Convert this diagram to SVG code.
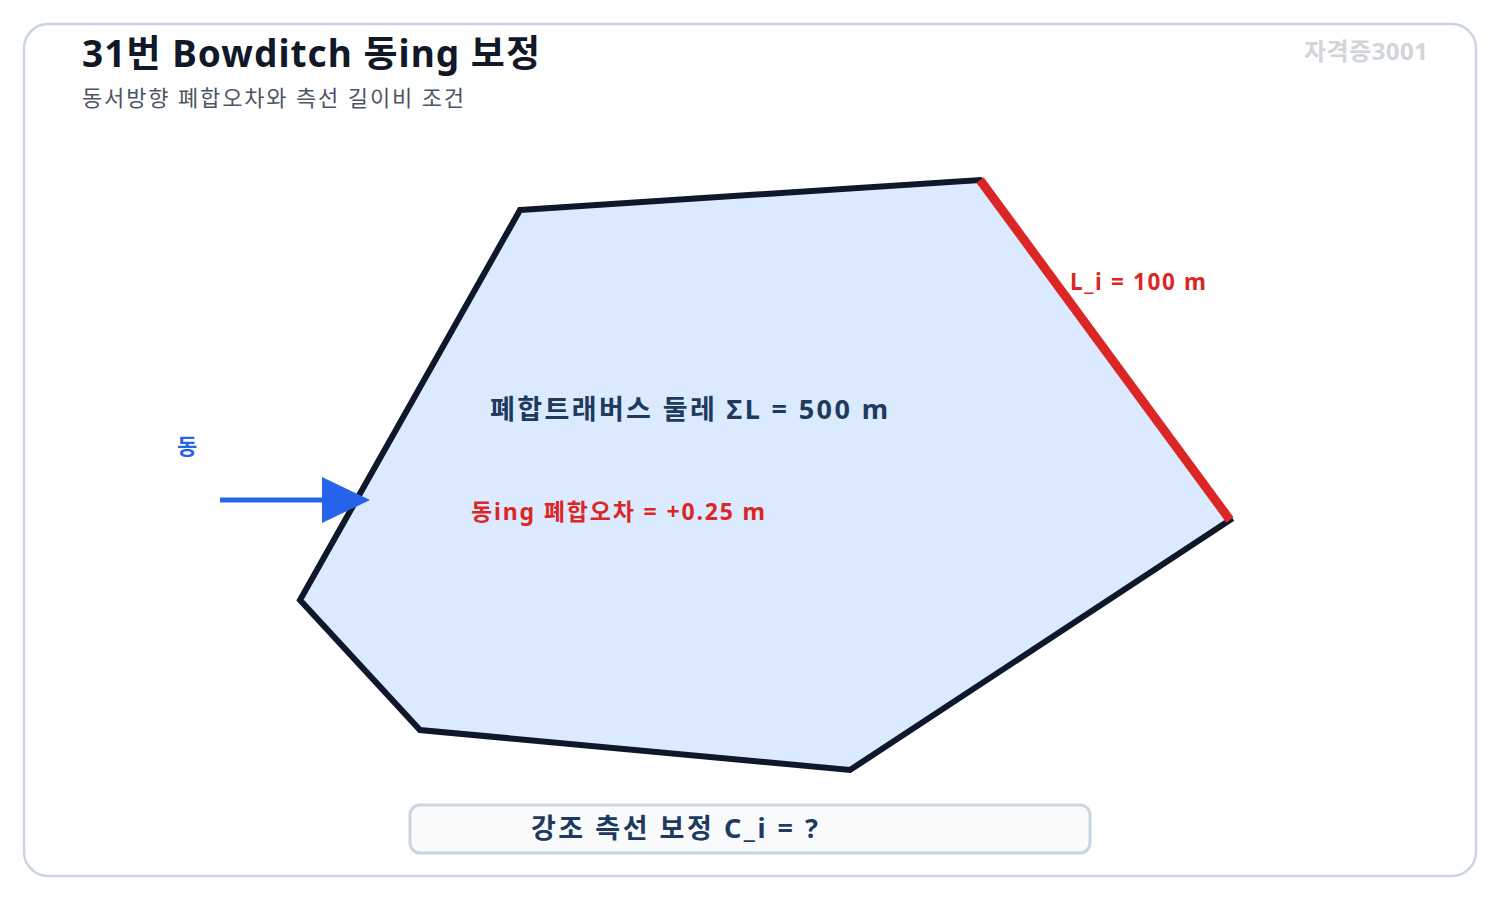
<svg xmlns="http://www.w3.org/2000/svg" width="1500" height="900" viewBox="0 0 1500 900">
<style>
text{font-family:"Noto Sans","Noto Sans CJK KR",sans-serif;}
.b{font-weight:700;}
</style>
<rect width="1500" height="900" fill="#ffffff"/>
<rect id="frame" x="24" y="24" width="1452" height="852" rx="24" fill="#ffffff" stroke="#cbd5e1" stroke-width="2.5"/>
<g id="title">
<text class="b" x="82" y="67" font-size="37" fill="#111827" textLength="458" lengthAdjust="spacing">31번 Bowditch 동ing 보정</text>
<text x="82" y="106" font-size="22" fill="#4b5563" textLength="382" lengthAdjust="spacing">동서방향 폐합오차와 측선 길이비 조건</text>
</g>
<text id="watermark" class="b" x="1304" y="60" font-size="24" fill="#d1d5db" textLength="124" lengthAdjust="spacing">자격증3001</text>
<g id="traverse">
<polygon points="520,210 980,180 1230,520 850,770 420,730 300,600" fill="#dbeafe" stroke="#0f172a" stroke-width="6" stroke-linejoin="miter"/>
</g>
<g id="highlight-edge">
<line x1="980" y1="180" x2="1230" y2="520" stroke="#dc2626" stroke-width="9"/>
<text class="b" x="1070" y="290" font-size="22.5" fill="#dc2626" textLength="136" lengthAdjust="spacing">L_i = 100 m</text>
</g>
<g id="labels">
<text class="b" x="490" y="419" font-size="27" fill="#1e3a5f" textLength="398" lengthAdjust="spacing">폐합트래버스 둘레 ΣL = 500 m</text>
<text class="b" x="471" y="520" font-size="23" fill="#dc2626" textLength="294" lengthAdjust="spacing">동ing 폐합오차 = +0.25 m</text>
</g>
<g id="connectors">
<line x1="220" y1="500" x2="326" y2="500" stroke="#2563eb" stroke-width="5"/>
<polygon points="322,477 370,500 322,523" fill="#2563eb"/>
</g>
<text id="east" class="b" x="187" y="454" font-size="22" fill="#2563eb" text-anchor="middle">동</text>
<g id="answer-box">
<rect x="410" y="805" width="680" height="48" rx="10" fill="#f8fafc" stroke="#cbd5e1" stroke-width="3"/>
<text class="b" x="531" y="838" font-size="27" fill="#1e3a5f" textLength="287" lengthAdjust="spacing">강조 측선 보정 C_i = ?</text>
</g>
</svg>
